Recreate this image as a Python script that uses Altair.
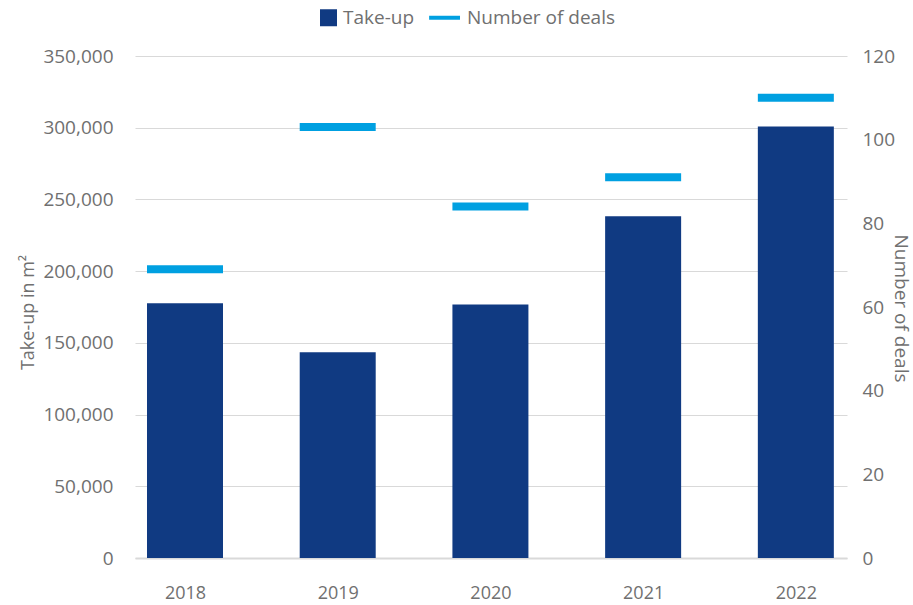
import altair as alt
import pandas as pd

years = [2018, 2019, 2020, 2021, 2022]
take_up = [177600, 143500, 176700, 238300, 300800]
deals = [69, 103, 84, 91, 110]
series_names = ["Take-up", "Number of deals"]
left_ticks = [0, 50000, 100000, 150000, 200000, 250000, 300000, 350000]
right_ticks = [0, 20, 40, 60, 80, 100, 120]

df = pd.DataFrame({"year": years, "take_up": take_up, "deals": deals})
legend_df = pd.DataFrame({"series": series_names, "year": [years[0]] * 2, "v": [0, 0]})

FONT = "Open Sans"
GRAY = "#707070"
NAVY = "#103a82"
CYAN = "#00a0e1"
GRID = "#d9d9d9"
LINE_PATH = "M-2.75,-0.235H0.88V0.235H-2.75Z"

x_enc = alt.X(
    "year:Q",
    scale=alt.Scale(domain=[2017.6726, 2022.335], nice=False, zero=False, padding=0),
    axis=alt.Axis(values=years, format="d", title=None, ticks=False, grid=False,
                  labelPadding=26, labelFontSize=18, domainColor=GRID, domainWidth=2,
                  labelFlush=False),
)

bars = alt.Chart(df).mark_bar(size=76, color=NAVY).encode(
    x=x_enc,
    y=alt.Y("take_up:Q",
            scale=alt.Scale(domain=[0, 350000], nice=False),
            axis=alt.Axis(values=left_ticks, format=",d", title="Take-up in m²",
                          orient="left", ticks=False, domain=False, grid=True,
                          gridColor=GRID, gridWidth=1, labelPadding=22,
                          titleFontSize=18, titleX=-107, titleY=256, titleAngle=270,
                          titleBaseline="middle", titleAlign="center")),
)

dashes = alt.Chart(df).mark_tick(size=76, thickness=8, color=CYAN, opacity=1,
                                 orient="horizontal").encode(
    x=alt.X("year:Q"),
    y=alt.Y("deals:Q",
            scale=alt.Scale(domain=[0, 120], nice=False),
            axis=alt.Axis(values=right_ticks, format="d", title="Number of deals",
                          orient="right", ticks=False, domain=False, grid=False,
                          labelPadding=15, titleFontSize=19, titleX=53, titleY=252,
                          titleAngle=90, titleBaseline="middle", titleAlign="center")),
)

legend_cfg = dict(title=None, orient="none", legendX=184, legendY=-48,
                  direction="horizontal", padding=0,
                  labelFont=FONT, labelFontSize=19, labelColor=GRAY,
                  symbolSize=289, symbolStrokeWidth=0, symbolOpacity=1,
                  labelOffset=5, columnPadding=14)

legend_layer = alt.Chart(legend_df).mark_point(opacity=0, filled=True).encode(
    x=alt.X("year:Q"),
    y=alt.Y("v:Q", axis=None),
    color=alt.Color("series:N",
                    scale=alt.Scale(domain=series_names, range=[NAVY, CYAN]),
                    legend=alt.Legend(**legend_cfg)),
    shape=alt.Shape("series:N",
                    scale=alt.Scale(domain=series_names, range=["square", LINE_PATH]),
                    legend=alt.Legend(**legend_cfg)),
)

chart = (
    alt.layer(bars, dashes, legend_layer)
    .resolve_scale(y="independent")
    .properties(
        width=712,
        height=502,
        padding={"left": 135, "top": 56, "right": 66, "bottom": 47},
        autosize=alt.AutoSizeParams(type="none"),
    )
    .configure_view(stroke=None)
    .configure_axis(labelFont=FONT, labelFontSize=19, labelColor=GRAY,
                    titleFont=FONT, titleFontSize=18, titleColor=GRAY,
                    titleFontWeight="normal")
)

chart.save("out.html", embed_options={"renderer": "svg", "actions": False})
